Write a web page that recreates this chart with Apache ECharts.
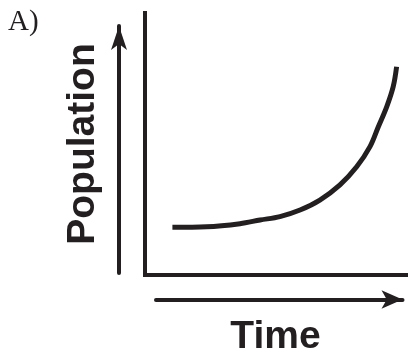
<!DOCTYPE html>
<html>
<head>
<meta charset="utf-8">
<script src="https://cdn.jsdelivr.net/npm/echarts@6/dist/echarts.min.js"></script>
<style>
html,body{margin:0;padding:0;background:#fff;}
#chart{width:412px;height:354px;}
</style>
</head>
<body>
<div id="chart"></div>
<script>
// Data (schematic exponential growth curve)
const timeValues = [10.5, 23.6, 36.4, 44.1, 51.7, 59.4, 67.0, 74.7, 81.1, 86.2, 89.4, 92.6, 95.1, 96.4];
const populationValues = [18.2, 18.4, 19.6, 21.0, 22.3, 24.8, 28.6, 34.4, 41.3, 49.0, 56.6, 64.2, 71.9, 79.5];
const xAxisName = 'Time';
const yAxisName = 'Population';
const panelLabel = 'A)';

const ink = '#231f20';
const chart = echarts.init(document.getElementById('chart'), null, {renderer: 'canvas'});

const hiddenAxis = (gi) => ({ type: 'value', gridIndex: gi, show: false, min: 0, max: 1 });

const option = {
  animation: false,
  backgroundColor: '#ffffff',
  title: {
    text: panelLabel,
    left: 8, top: 8, padding: 0,
    textStyle: { fontFamily: 'Liberation Serif', fontWeight: 'normal', fontSize: 29, color: ink }
  },
  grid: [
    { left: 145, top: 13, right: 6, bottom: 79, outerBoundsMode: 'none', containLabel: false },   // frame + curve
    { left: 119, top: 26, right: 280, bottom: 81, outerBoundsMode: 'none', containLabel: false }, // population arrow
    { left: 156, top: 290, right: 9.5, bottom: 54.5, outerBoundsMode: 'none', containLabel: false } // time arrow
  ],
  xAxis: [
    {
      type: 'value', gridIndex: 0, min: 0, max: 100,
      axisLine: { show: true, lineStyle: { color: ink, width: 4, cap: 'square' } },
      axisTick: { show: false }, axisLabel: { show: false }, splitLine: { show: false },
      name: xAxisName, nameLocation: 'middle', nameGap: 43,
      nameTextStyle: { fontFamily: 'Liberation Sans', fontWeight: 'bold', fontSize: 39, color: ink }
    },
    hiddenAxis(1),
    {
      type: 'value', gridIndex: 2, min: 0, max: 1,
      axisLine: { show: true, symbol: ['none', 'arrow'], symbolSize: [14, 21], lineStyle: { color: ink, width: 4 } },
      axisTick: { show: false }, axisLabel: { show: false }, splitLine: { show: false }
    }
  ],
  yAxis: [
    {
      type: 'value', gridIndex: 0, min: 0, max: 100,
      axisLine: { show: true, lineStyle: { color: ink, width: 4, cap: 'square' } },
      axisTick: { show: false }, axisLabel: { show: false }, splitLine: { show: false },
      name: yAxisName, nameLocation: 'middle', nameGap: 42,
      nameTextStyle: { fontFamily: 'Liberation Sans', fontWeight: 'bold', fontSize: 39, color: ink }
    },
    {
      type: 'value', gridIndex: 1, min: 0, max: 1,
      axisLine: { show: true, symbol: ['none', 'arrow'], symbolSize: [12, 24], lineStyle: { color: ink, width: 4 } },
      axisTick: { show: false }, axisLabel: { show: false }, splitLine: { show: false }
    },
    hiddenAxis(2)
  ],
  series: [
    {
      type: 'line', xAxisIndex: 0, yAxisIndex: 0,
      data: timeValues.map((t, i) => [t, populationValues[i]]),
      smooth: 0.35, showSymbol: false, silent: true,
      lineStyle: { color: ink, width: 5, cap: 'butt' }
    }
  ]
};
chart.setOption(option);
</script>
</body>
</html>
